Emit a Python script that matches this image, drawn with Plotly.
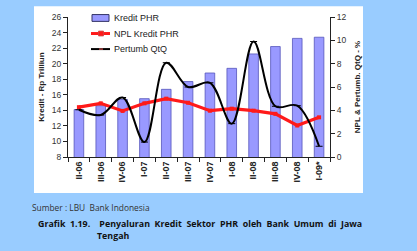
import plotly.graph_objects as go

categories = ["II-06", "III-06", "IV-06", "I-07", "II-07", "III-07", "IV-07",
              "I-08", "II-08", "III-08", "IV-08", "I-09*"]
kredit_phr = [14.1, 14.6, 15.4, 15.5, 16.7, 17.7, 18.8, 19.4, 21.25, 22.2, 23.25, 23.4]
npl_kredit = [4.27, 4.6, 3.95, 4.6, 5.0, 4.65, 3.97, 4.14, 3.97, 3.7, 2.7, 3.4]
pertumb_qtq = [4.05, 3.6, 5.1, 1.28, 8.08, 6.0, 6.36, 2.86, 9.9, 4.35, 4.4, 0.92]
series_names = ["Kredit PHR", "NPL Kredit PHR", "Pertumb QtQ"]

W, H = 417, 251
L, R, T, B = 68, 330, 13, 157
pw, ph = R - L, B - T

def px(x):
    return (x - L) / pw

def py(y):
    return (B - y) / ph

font = "Liberation Sans, Arial, sans-serif"
BAR_FILL, BAR_EDGE = "#9999FF", "#5555BB"
RED, BLACK, DASHM = "#FF1A1A", "#000000", "#AA4444"

fig = go.Figure()
fig.add_trace(go.Bar(
    x=categories, y=kredit_phr, name=series_names[0],
    marker=dict(color=BAR_FILL, line=dict(color=BAR_EDGE, width=0.8)),
    yaxis="y", showlegend=False,
))
fig.add_trace(go.Scatter(
    x=categories, y=npl_kredit, name=series_names[1], mode="lines+markers",
    line=dict(color=RED, width=3.2),
    marker=dict(symbol="square", size=4, color=RED),
    yaxis="y2", showlegend=False,
))
fig.add_trace(go.Scatter(
    x=categories, y=pertumb_qtq, name=series_names[2], mode="lines+markers",
    line=dict(color=BLACK, width=2, shape="spline", smoothing=1.0),
    marker=dict(symbol="line-ew-open", size=5, line=dict(color=DASHM, width=1)),
    yaxis="y2", showlegend=False,
))

# manual legend (key box, lines and labels)
leg_rows = [14, 30, 46]
shapes = [dict(type="rect", xref="paper", yref="paper",
               x0=px(34), x1=px(363), y0=py(194), y1=py(2),
               fillcolor="white", line=dict(width=0), layer="below")]
shapes.append(dict(type="rect", xref="paper", yref="paper",
                   x0=px(92), x1=px(109), y0=py(leg_rows[0] + 3.5), y1=py(leg_rows[0] - 3.5),
                   fillcolor=BAR_FILL, line=dict(color="#333366", width=1)))
shapes.append(dict(type="line", xref="paper", yref="paper",
                   x0=px(91), x1=px(110), y0=py(leg_rows[1]), y1=py(leg_rows[1]),
                   line=dict(color=RED, width=3)))
shapes.append(dict(type="rect", xref="paper", yref="paper",
                   x0=px(98.5), x1=px(103.5), y0=py(leg_rows[1] + 2.5), y1=py(leg_rows[1] - 2.5),
                   fillcolor=RED, line=dict(color="#CC4444", width=0.8)))
shapes.append(dict(type="line", xref="paper", yref="paper",
                   x0=px(91), x1=px(110), y0=py(leg_rows[2]), y1=py(leg_rows[2]),
                   line=dict(color=BLACK, width=2)))
shapes.append(dict(type="line", xref="paper", yref="paper",
                   x0=px(99), x1=px(103), y0=py(leg_rows[2]), y1=py(leg_rows[2]),
                   line=dict(color=DASHM, width=1.5)))

annotations = [
    dict(text=name, xref="paper", yref="paper", x=px(112), y=py(row),
         xanchor="left", yanchor="middle", showarrow=False,
         font=dict(size=9, color="#222222"))
    for name, row in zip(series_names, leg_rows)
]
annotations += [
    dict(text="Sumber : LBU  Bank Indonesia", xref="paper", yref="paper",
         x=px(30), y=py(209), xanchor="left", yanchor="middle", showarrow=False,
         font=dict(size=8.4, color="#333333", family="Open Sans, Liberation Sans")),
    dict(text="<b>Grafik  1.19.    Penyaluran  Kredit  Sektor  PHR  oleh  Bank  Umum  di  Jawa</b>",
         xref="paper", yref="paper", x=px(36), y=py(226), xanchor="left", yanchor="middle",
         showarrow=False, font=dict(size=8.85, color="#111111", family="Open Sans, Liberation Sans")),
    dict(text="<b>Tengah</b>", xref="paper", yref="paper", x=px(95), y=py(238),
         xanchor="left", yanchor="middle", showarrow=False,
         font=dict(size=8.85, color="#111111", family="Open Sans, Liberation Sans")),
]

fig.update_layout(
    width=W, height=H,
    margin=dict(l=L, r=W - R, t=T, b=H - B),
    paper_bgcolor="#99CCFF",
    plot_bgcolor="white",
    font=dict(family=font, size=8, color="#333333"),
    bargap=0.56,
    showlegend=False,
    xaxis=dict(
        type="category", showline=True, linecolor="#222222", linewidth=1,
        ticks="outside", ticklen=4, tickcolor="#222222", tickson="boundaries",
        tickangle=-90, tickfont=dict(size=9, color="#222222", family="Liberation Sans, Arial", weight="bold"),
        showgrid=False, range=[-0.5, 11.5],
    ),
    yaxis=dict(
        range=[8, 26], dtick=2, showline=True, linecolor="#222222", linewidth=1,
        ticks="outside", ticklen=4, tickcolor="#222222", showgrid=False,
        tickfont=dict(size=8.5, color="#333333"),
        title=dict(text="<b>Kredit - Rp Trilliun</b>", font=dict(size=8, color="#222222"), standoff=6),
        zeroline=False,
    ),
    yaxis2=dict(
        range=[0, 12], dtick=2, overlaying="y", side="right", showline=True,
        linecolor="#222222", linewidth=1, ticks="outside", ticklen=4, tickcolor="#222222",
        showgrid=False, tickfont=dict(size=8.5, color="#333333"),
        title=dict(text="<b>NPL & Pertumb. QtQ - %</b>", font=dict(size=8, color="#222222"), standoff=8),
        zeroline=False,
    ),
    shapes=shapes,
    annotations=annotations,
)

fig.write_html("out.html")
